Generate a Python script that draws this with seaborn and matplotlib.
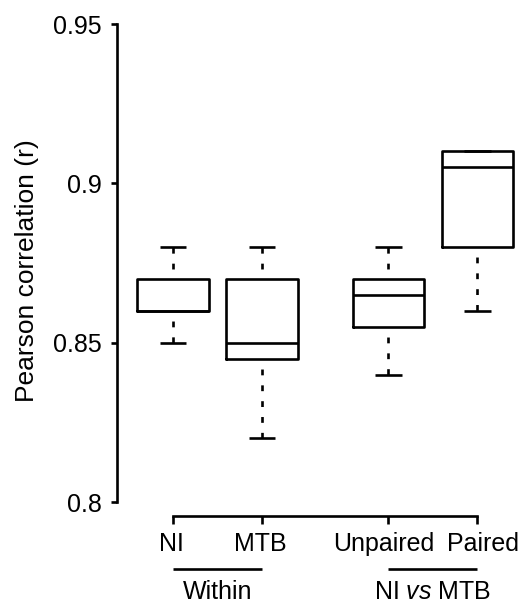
import numpy as np
import pandas as pd
import matplotlib
matplotlib.use("Agg")
import matplotlib.pyplot as plt
import seaborn as sns
from matplotlib.transforms import blended_transform_factory, ScaledTranslation

# ---- data (five-number summaries) ----
categories = ["NI", "MTB", "Unpaired", "Paired"]
positions = [1.0, 2.0, 3.42, 4.42]
ni_vals = [0.85, 0.86, 0.86, 0.87, 0.88]
mtb_vals = [0.82, 0.845, 0.85, 0.87, 0.88]
unpaired_vals = [0.84, 0.855, 0.865, 0.87, 0.88]
paired_vals = [0.86, 0.88, 0.905, 0.91, 0.91]
group_names = ["Within", r"NI $\mathit{vs}$ MTB"]
group_members = [[0, 1], [2, 3]]
yticks = [0.8, 0.85, 0.9, 0.95]
ytick_labels = ["0.8", "0.85", "0.9", "0.95"]
ylabel = "Pearson correlation (r)"

values = [ni_vals, mtb_vals, unpaired_vals, paired_vals]
df = pd.DataFrame({
    "pos": np.repeat(positions, [len(v) for v in values]),
    "r": np.concatenate(values),
})

sns.set_style("ticks")
plt.rcParams["font.family"] = ["Liberation Sans", "DejaVu Sans"]
plt.rcParams["mathtext.fontset"] = "custom"
plt.rcParams["mathtext.it"] = "Liberation Sans:italic"
plt.rcParams["mathtext.rm"] = "Liberation Sans"

fig = plt.figure(figsize=(5.29, 6.05), dpi=100)
ax = fig.add_axes([117 / 529, 1 - 502 / 605, 408 / 529, 478 / 605])

lw = 1.9
sns.boxplot(
    data=df, x="pos", y="r", native_scale=True, fill=False, color="black",
    linewidth=lw, width=0.8, whis=1.5, showfliers=False,
    whiskerprops=dict(linestyle=(2.2, (2.2, 3.8)), color="black"),
    capprops=dict(color="black", solid_capstyle="butt"),
    boxprops=dict(color="black"),
    medianprops=dict(color="black"),
    capwidths=0.3,
    ax=ax,
)

ax.set_ylim(0.8, 0.95)
ax.set_xlim(0.371, 4.955)
ax.set_yticks(yticks, ytick_labels)
ax.set_xticks(positions, categories)
ax.set_xlabel("")
ax.set_ylabel(ylabel, fontsize=19, color="black")
ax.yaxis.set_label_coords(-0.192, 0.485)

for s in ["top", "right"]:
    ax.spines[s].set_visible(False)
ax.spines["left"].set_bounds(0.8, 0.95)
ax.spines["left"].set_linewidth(lw)
ax.spines["left"].set_color("black")
ax.spines["bottom"].set_position(("outward", 10))
ax.spines["bottom"].set_bounds(positions[0], positions[-1])
ax.spines["bottom"].set_linewidth(lw)
ax.spines["bottom"].set_color("black")
ax.tick_params(axis="y", direction="out", length=4.3, width=lw, pad=6.5,
               labelsize=18, colors="black")
ax.tick_params(axis="x", direction="out", length=5.8, width=lw, pad=6,
               labelsize=18, colors="black")

# small horizontal nudges of the x tick labels (pixels), as in the reference
label_shift_px = [-1.3, -1.3, -4.5, 5.5]
for lab, dx in zip(ax.get_xticklabels(), label_shift_px):
    lab.set_transform(lab.get_transform() + ScaledTranslation(dx / 100, 0, fig.dpi_scale_trans))

trans = blended_transform_factory(ax.transData, ax.transAxes)
for name, members in zip(group_names, group_members):
    x0 = positions[members[0]]
    x1 = positions[members[-1]]
    ax.plot([x0, x1], [-0.1402, -0.1402], transform=trans, color="black",
            lw=lw, clip_on=False, solid_capstyle="butt")
    ax.text((x0 + x1) / 2, -0.188, name, transform=trans, ha="center",
            va="center", fontsize=18, color="black")

fig.savefig("out.png", dpi=100, facecolor="white")
